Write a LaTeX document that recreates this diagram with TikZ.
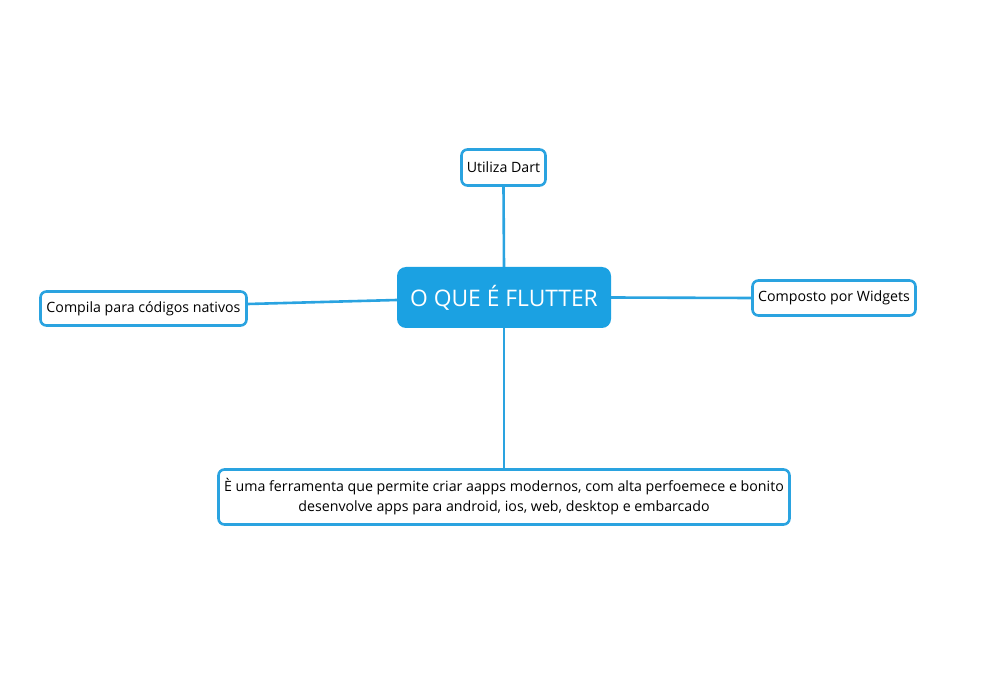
\documentclass[tikz,border=0pt]{standalone}
\usepackage{fontspec}
\setmainfont{Open Sans}
\usetikzlibrary{calc}
\definecolor{mmblue}{HTML}{1BA1E2}
\definecolor{mmline}{HTML}{2AA3E0}
\tikzset{
  topic/.style={draw=mmline, line width=2.6pt, rounded corners=6pt, fill=white, inner sep=0pt, align=center, font=\fontsize{14.2}{20}\selectfont, text=black},
  central/.style={fill=mmblue, rounded corners=9pt, inner sep=0pt, font=\fontsize{22.8}{26}\selectfont, text=white},
  link/.style={draw=mmline, line width=2.6pt}
}
\begin{document}
\begin{tikzpicture}[x=1pt,y=-1pt]
\useasboundingbox (0,0) rectangle (997,679);
\node[central, minimum width=214pt, minimum height=61pt] (c) at (504,297.5) {O QUE É FLUTTER};
\node[topic, minimum width=84pt, minimum height=36pt] (t) at (503.5,167.5) {Utiliza Dart};
\node[topic, minimum width=206pt, minimum height=34pt] (l) at (143.5,308.5) {Compila para códigos nativos};
\node[topic, minimum width=163pt, minimum height=35pt] (r) at (834,298) {Composto por Widgets};
\node[topic, minimum width=571pt, minimum height=55pt] (b) at (504,497) {È uma ferramenta que permite criar aapps modernos, com alta perfoemece e bonito\\desenvolve apps para android, ios, web, desktop e embarcado};
\draw[link] (t.south) -- (c.north);
\draw[link] ($(l.east)+(0,-4.5)$) -- ($(c.west)+(0,2.5)$);
\draw[link] (c.east) -- (r.west);
\draw[link] (c.south) -- (b.north);
\end{tikzpicture}
\end{document}
